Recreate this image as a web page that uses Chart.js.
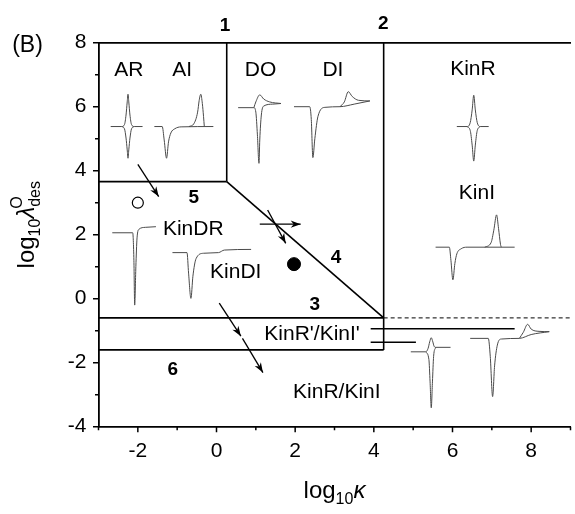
<!DOCTYPE html>
<html><head><meta charset="utf-8">
<script src="https://cdn.jsdelivr.net/npm/chart.js@4.4.1/dist/chart.umd.min.js"></script>
<style>html,body{margin:0;padding:0;overflow:hidden;background:#fff}</style>
</head><body>
<canvas id="c" width="578" height="514"></canvas>
<script>
// ---- axes ----
const xRange = [-3, 9];
const yRange = [-4, 8];
const xMajorTicks = [-2, 0, 2, 4, 6, 8];
const yMajorTicks = [-4, -2, 0, 2, 4, 6, 8];
const xMinorTicks = [-3, -1, 1, 3, 5, 7, 9];
const yMinorTicks = [-3, -1, 1, 3, 5, 7];

// ---- zone boundaries (log10 kappa, log10 lambda) ----
const kappaB1 = 0.26;
const kappaB2 = 4.25;
const lambdaB5 = 3.66;
const lambdaB3 = -0.6;
const lambdaB6 = -1.6;
const leaderLine1 = [[3.92, -0.94], [7.58, -0.94]];
const leaderLine2 = [[3.92, -1.36], [5.07, -1.36]];

// ---- arrows [from, to] ----
const arrows = [
  [[-2.0, 4.2], [-1.47, 3.19]],
  [[1.10, 2.33], [2.14, 2.33]],
  [[1.30, 2.77], [1.76, 1.73]],
  [[0.07, -0.14], [0.62, -1.17]],
  [[0.66, -1.24], [1.18, -2.31]]
];

// ---- points ----
const openPoints = [[-2.0, 3.0]];
const filledPoints = [[1.97, 1.08]];

// ---- inset voltammograms ----
const curveAR_up = [[-2.69,5.38],[-2.41,5.38],[-2.34,5.44],[-2.30,5.74],[-2.27,6.15],[-2.25,6.39],[-2.23,6.15],[-2.20,5.74],[-2.16,5.44],[-2.09,5.38],[-1.88,5.38]];
const curveAR_dn = [[-2.41,5.38],[-2.34,5.31],[-2.30,5.02],[-2.27,4.65],[-2.25,4.39],[-2.23,4.65],[-2.20,5.02],[-2.16,5.31],[-2.09,5.38]];
const curveAI_a = [[-1.58,5.38],[-1.38,5.38],[-1.33,4.96],[-1.27,4.39],[-1.22,4.90],[-1.16,5.18],[-1.06,5.31],[-0.90,5.37],[-0.08,5.38]];
const curveAI_b = [[-0.70,5.38],[-0.58,5.46],[-0.48,5.83],[-0.44,6.20],[-0.40,6.39],[-0.36,6.10],[-0.33,5.70],[-0.31,5.38]];
const curveDO_a = [[0.55,5.97],[0.95,5.97],[1.00,5.83],[1.04,5.12],[1.08,4.23],[1.10,4.96],[1.14,5.74],[1.20,6.02],[1.43,6.08],[1.64,6.10]];
const curveDO_b = [[0.95,5.97],[1.00,6.15],[1.10,6.37],[1.20,6.24],[1.35,6.15],[1.64,6.10]];
const curveDI_a = [[1.97,6.00],[2.37,6.00],[2.41,5.60],[2.45,4.41],[2.50,5.00],[2.58,5.70],[2.76,5.98],[3.14,6.00],[3.50,6.08],[3.90,6.18]];
const curveDI_b = [[3.14,6.00],[3.25,6.15],[3.35,6.47],[3.45,6.32],[3.61,6.20],[3.90,6.18]];
const curveKinR_up = [[6.11,5.38],[6.37,5.38],[6.45,5.50],[6.50,5.90],[6.54,6.36],[6.58,5.90],[6.63,5.50],[6.71,5.38],[6.92,5.38]];
const curveKinR_dn = [[6.37,5.38],[6.45,5.26],[6.50,4.80],[6.54,4.30],[6.58,4.80],[6.63,5.26],[6.71,5.38]];
const curveKinI_a = [[5.57,1.61],[5.92,1.61],[5.96,1.20],[6.01,0.59],[6.06,1.10],[6.11,1.40],[6.22,1.56],[6.37,1.61],[7.58,1.61]];
const curveKinI_b = [[6.82,1.61],[6.98,1.75],[7.05,2.14],[7.12,2.62],[7.17,2.20],[7.22,1.70],[7.24,1.61]];
const curveKinDR = [[-2.65,2.06],[-2.13,2.06],[-2.10,1.20],[-2.08,-0.20],[-2.05,1.00],[-2.02,1.90],[-1.97,2.17],[-1.81,2.23],[-1.54,2.25]];
const curveKinDI = [[-1.12,1.44],[-0.75,1.44],[-0.71,0.80],[-0.65,0.01],[-0.60,0.70],[-0.52,1.25],[-0.33,1.42],[0.05,1.44],[0.20,1.52],[0.88,1.54]];
const curveKR1_up = [[4.94,-1.66],[5.32,-1.66],[5.38,-1.55],[5.42,-1.35],[5.46,-1.22],[5.50,-1.35],[5.53,-1.48],[5.57,-1.52],[5.95,-1.52]];
const curveKR1_dn = [[5.32,-1.66],[5.40,-1.90],[5.43,-2.60],[5.46,-3.41],[5.49,-2.60],[5.52,-1.80],[5.57,-1.52]];
const curveKI1_a = [[6.45,-1.24],[6.91,-1.24],[6.96,-1.80],[7.02,-3.06],[7.07,-2.10],[7.14,-1.45],[7.24,-1.26],[7.70,-1.24],[8.00,-1.12],[8.46,-1.03]];
const curveKI1_b = [[7.70,-1.24],[7.80,-1.05],[7.91,-0.80],[8.00,-0.95],[8.20,-1.02],[8.46,-1.03]];

// ---- text annotations ----
const zoneLabels = ['AR', 'AI', 'DO', 'DI', 'KinR', 'KinI', 'KinDR', 'KinDI', "KinR'/KinI'", 'KinR/KinI'];
const zoneLabelPos = [[-2.23,7.15],[-0.87,7.15],[1.12,7.15],[2.96,7.15],[6.52,7.17],[6.62,3.29],[-0.59,2.18],[0.49,0.82],[2.43,-1.12],[3.06,-2.92]];
const zoneNumbers = ['1', '2', '3', '4', '5', '6'];
const zoneNumberPos = [[0.22,8.53],[4.24,8.60],[2.50,-0.19],[3.04,1.27],[-0.58,3.14],[-1.11,-2.21]];

const FAM = '"Liberation Sans", Arial, sans-serif';
const toXY = pts => pts.map(p => ({x: p[0], y: p[1]}));

function lineDs(pts, o) {
  return Object.assign({type: 'line', data: toXY(pts), showLine: true, pointRadius: 0, pointHoverRadius: 0,
    fill: false, borderColor: '#000', borderWidth: 1.6, tension: 0}, o || {});
}
const insetStyle = {borderColor: '#4a4a4a', borderWidth: 1, cubicInterpolationMode: 'monotone'};
const insets = [curveAR_up, curveAR_dn, curveAI_a, curveAI_b, curveDO_a, curveDO_b, curveDI_a, curveDI_b,
  curveKinR_up, curveKinR_dn, curveKinI_a, curveKinI_b, curveKinDR, curveKinDI, curveKR1_up, curveKR1_dn, curveKI1_a, curveKI1_b];

const datasets = [];
insets.forEach(c => datasets.push(lineDs(c, insetStyle)));
datasets.push(lineDs([[kappaB1, yRange[1]], [kappaB1, lambdaB5]]));
datasets.push(lineDs([[xRange[0], lambdaB5], [kappaB1, lambdaB5]]));
datasets.push(lineDs([[kappaB1, lambdaB5], [kappaB2, lambdaB3]]));
datasets.push(lineDs([[kappaB2, yRange[1]], [kappaB2, lambdaB6]]));
datasets.push(lineDs([[xRange[0], lambdaB3], [kappaB2, lambdaB3]]));
datasets.push(lineDs([[xRange[0], lambdaB6], [kappaB2, lambdaB6]]));
datasets.push(lineDs([[kappaB2, lambdaB3], [xRange[1], lambdaB3]], {borderWidth: 1, borderDash: [4, 3]}));
datasets.push(lineDs(leaderLine1));
datasets.push(lineDs(leaderLine2));
arrows.forEach(a => datasets.push(lineDs(a, {borderWidth: 1.3, isArrow: true})));
datasets.push({type: 'scatter', data: toXY(openPoints), pointRadius: 5.5, pointBackgroundColor: '#fff', pointBorderColor: '#000', pointBorderWidth: 1.2, showLine: false});
datasets.push({type: 'scatter', data: toXY(filledPoints), pointRadius: 6.5, pointBackgroundColor: '#000', pointBorderColor: '#000', pointBorderWidth: 1, showLine: false});

function drawRich(ctx, parts, x, y, center) {
  let total = 0;
  parts.forEach(p => {
    if (p.stack) { let w = 0; p.stack.forEach(s => { ctx.font = s.font; w = Math.max(w, ctx.measureText(s.text).width); }); p._w = w; }
    else { ctx.font = p.font; p._w = ctx.measureText(p.text).width; }
    total += p._w;
  });
  let cx = center ? x - total / 2 : x;
  ctx.textBaseline = 'alphabetic'; ctx.textAlign = 'left';
  parts.forEach(p => {
    if (p.stack) p.stack.forEach(s => { ctx.font = s.font; ctx.fillText(s.text, cx + (s.dx || 0), y + s.dy); });
    else { ctx.font = p.font; ctx.fillText(p.text, cx, y + (p.dy || 0)); }
    cx += p._w;
  });
}

const overlay = {
  id: 'overlay',
  afterDatasetsDraw(chart) {
    const {ctx, scales: {x, y}, chartArea: ca} = chart;
    ctx.save();
    // arrow heads
    ctx.fillStyle = '#000';
    arrows.forEach(a => {
      const x0 = x.getPixelForValue(a[0][0]), y0 = y.getPixelForValue(a[0][1]);
      const x1 = x.getPixelForValue(a[1][0]), y1 = y.getPixelForValue(a[1][1]);
      const ang = Math.atan2(y1 - y0, x1 - x0), L = 10, W = 3.6;
      ctx.beginPath();
      ctx.moveTo(x1, y1);
      ctx.lineTo(x1 - L * Math.cos(ang) + W * Math.sin(ang), y1 - L * Math.sin(ang) - W * Math.cos(ang));
      ctx.lineTo(x1 - L * 0.7 * Math.cos(ang), y1 - L * 0.7 * Math.sin(ang));
      ctx.lineTo(x1 - L * Math.cos(ang) - W * Math.sin(ang), y1 - L * Math.sin(ang) + W * Math.cos(ang));
      ctx.closePath(); ctx.fill();
    });
    // labels
    ctx.textAlign = 'center'; ctx.textBaseline = 'middle'; ctx.fillStyle = '#000';
    ctx.font = '21px ' + FAM;
    zoneLabels.forEach((t, i) => ctx.fillText(t, x.getPixelForValue(zoneLabelPos[i][0]), y.getPixelForValue(zoneLabelPos[i][1])));
    ctx.font = 'bold 19px ' + FAM;
    zoneNumbers.forEach((t, i) => ctx.fillText(t, x.getPixelForValue(zoneNumberPos[i][0]), y.getPixelForValue(zoneNumberPos[i][1])));
    // ticks
    ctx.strokeStyle = '#000'; ctx.lineWidth = 1.5;
    ctx.beginPath();
    xMajorTicks.forEach(v => { const p = x.getPixelForValue(v); ctx.moveTo(p, ca.bottom); ctx.lineTo(p, ca.bottom + 5.5); });
    xMinorTicks.forEach(v => { const p = x.getPixelForValue(v); ctx.moveTo(p, ca.bottom); ctx.lineTo(p, ca.bottom + 3.5); });
    yMajorTicks.forEach(v => { const p = y.getPixelForValue(v); ctx.moveTo(ca.left, p); ctx.lineTo(ca.left - 5.5, p); });
    yMinorTicks.forEach(v => { const p = y.getPixelForValue(v); ctx.moveTo(ca.left, p); ctx.lineTo(ca.left - 3.5, p); });
    ctx.stroke();
    // panel tag
    ctx.font = '23px ' + FAM; ctx.textAlign = 'center'; ctx.textBaseline = 'alphabetic';
    ctx.fillText('(B)', 27.5, 52);
    // x title
    const cxm = (ca.left + ca.right) / 2;
    drawRich(ctx, [
      {text: 'log', font: '24px ' + FAM},
      {text: '10', font: '16px ' + FAM, dy: 6},
      {text: 'κ', font: 'italic 24px ' + FAM}
    ], cxm, ca.bottom + 71, true);
    // y title
    ctx.save();
    ctx.translate(ca.left - 65, (ca.top + ca.bottom) / 2 - 10);
    ctx.rotate(-Math.PI / 2);
    drawRich(ctx, [
      {text: 'log', font: '24px ' + FAM},
      {text: '10', font: '16px ' + FAM, dy: 6},
      {text: 'λ', font: 'italic 24px ' + FAM},
      {stack: [{text: 'O', font: '16px ' + FAM, dy: -12, dx: -2}, {text: 'des', font: '16px ' + FAM, dy: 6}]}
    ], 0, 0, true);
    ctx.restore();
    ctx.restore();
  }
};

const axisBorder = {display: true, color: '#000', width: 1.8};
new Chart(document.getElementById('c'), {
  type: 'scatter',
  data: {datasets},
  options: {
    responsive: false, animation: false, devicePixelRatio: 1,
    layout: {padding: {left: 0, right: 1.5, top: 0, bottom: 0}},
    plugins: {legend: {display: false}, tooltip: {enabled: false}},
    scales: {
      x: {type: 'linear', position: 'bottom', min: xRange[0], max: xRange[1],
        afterBuildTicks: s => { s.ticks = xMajorTicks.map(v => ({value: v})); },
        ticks: {font: {family: FAM, size: 21}, color: '#000', padding: 12, autoSkip: false, maxRotation: 0, callback: v => String(v)},
        grid: {drawOnChartArea: false, drawTicks: false}, border: axisBorder,
        afterFit: s => { s.height = 87.3; }},
      xTop: {type: 'linear', position: 'top', min: xRange[0], max: xRange[1],
        ticks: {display: false}, grid: {drawOnChartArea: false, drawTicks: false}, border: axisBorder,
        afterFit: s => { s.height = 42.7; }},
      y: {type: 'linear', position: 'left', min: yRange[0], max: yRange[1],
        afterBuildTicks: s => { s.ticks = yMajorTicks.map(v => ({value: v})); },
        ticks: {font: {family: FAM, size: 21}, color: '#000', padding: 12, autoSkip: false, callback: v => String(v)},
        grid: {drawOnChartArea: false, drawTicks: false}, border: axisBorder,
        afterFit: s => { s.width = 98.5; }}
    }
  },
  plugins: [overlay]
});
</script>
</body></html>
